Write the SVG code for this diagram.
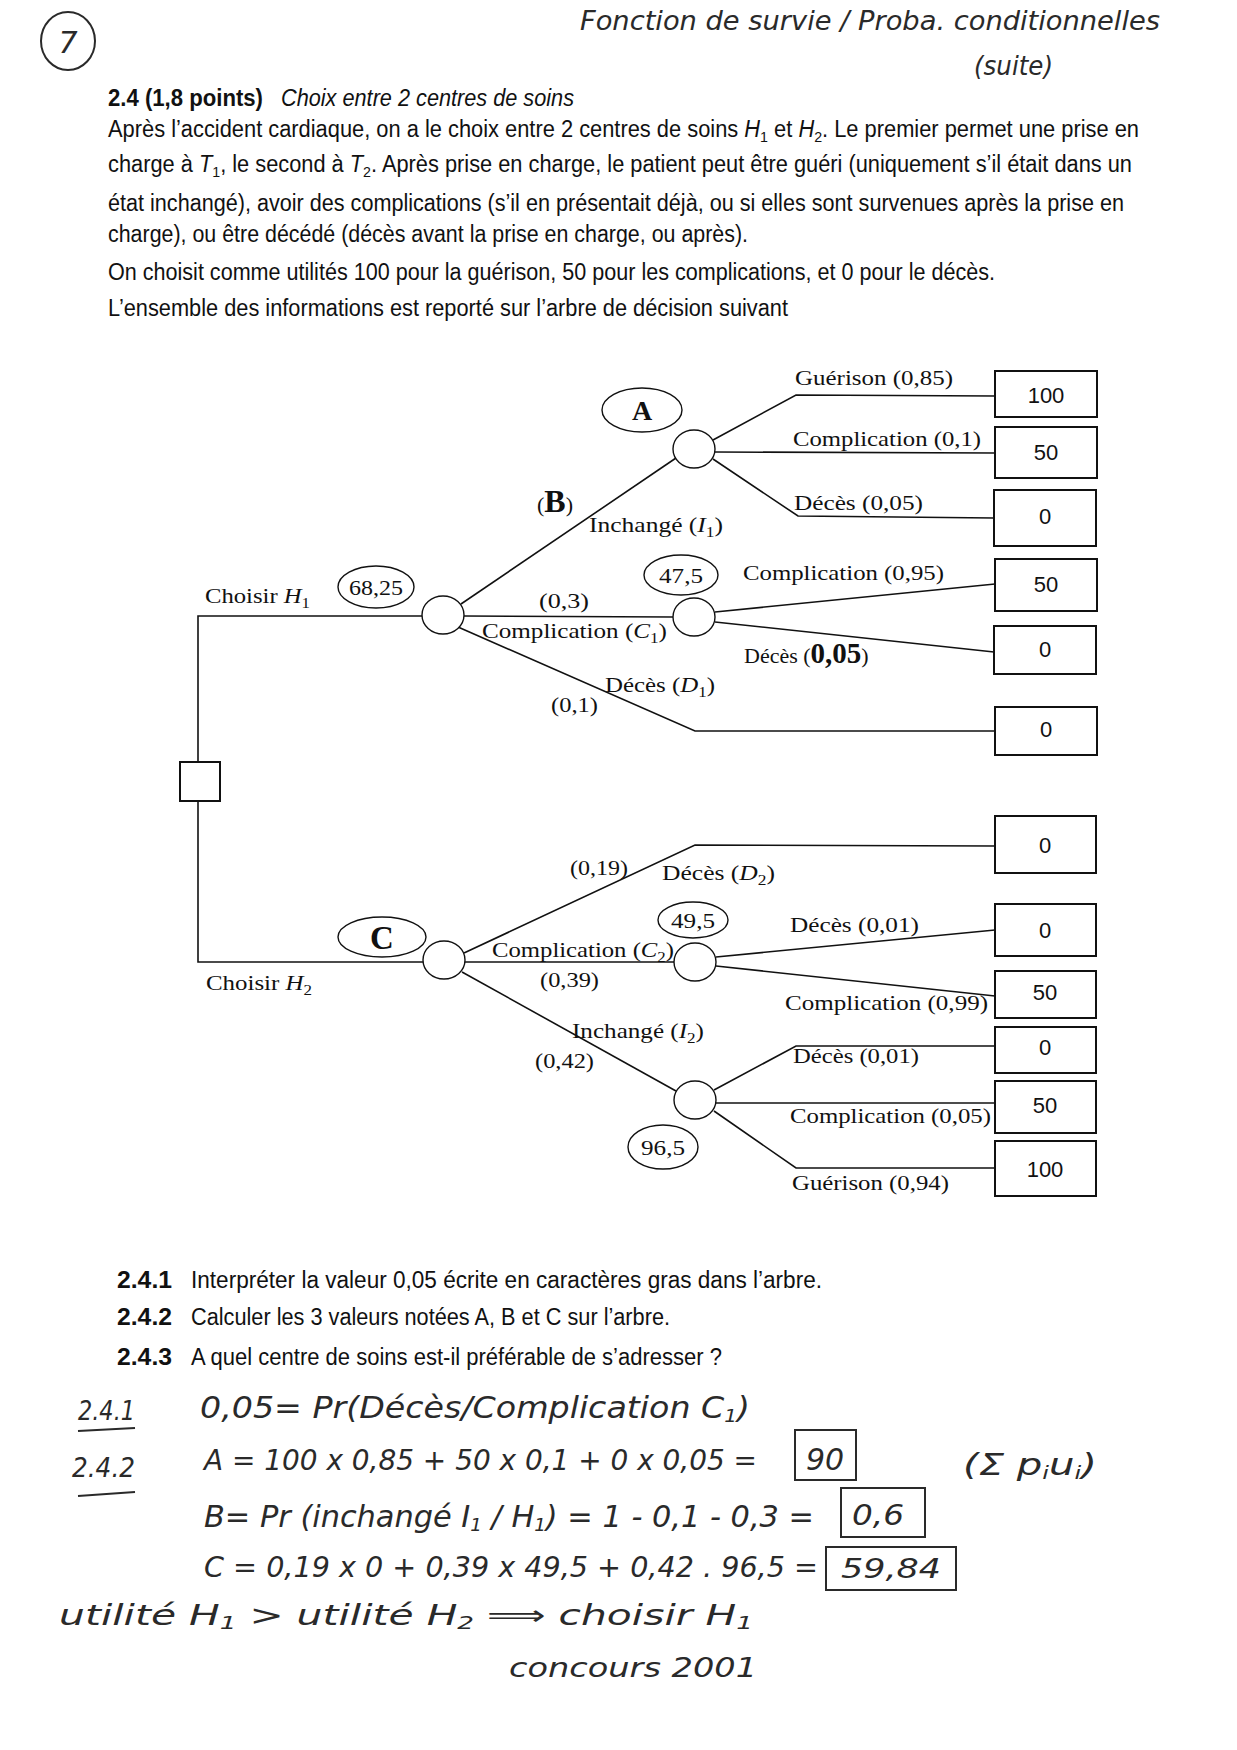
<svg xmlns="http://www.w3.org/2000/svg" width="1237" height="1750" viewBox="0 0 1237 1750">
<style>
.t{font-family:"Liberation Serif",serif;font-size:22px;fill:#111}
.b{font-family:"Liberation Sans",sans-serif;font-size:23px;fill:#111}
.bb{font-family:"Liberation Sans",sans-serif;font-size:23px;font-weight:bold;fill:#111}
.h{font-family:"DejaVu Sans",sans-serif;font-style:oblique;font-weight:300;fill:#2a2a2a}
.ln{stroke:#111;stroke-width:1.6;fill:none}
.ul{stroke:#2a2a2a;stroke-width:2;fill:none}
.nd{stroke:#111;stroke-width:1.4;fill:#fff}
.bx{stroke:#111;stroke-width:2;fill:#fff}
.hb{stroke:#2a2a2a;stroke-width:2;fill:none}
.num{font-family:"Liberation Sans",sans-serif;font-size:22px;fill:#111;text-anchor:middle}
.it{font-style:italic}
.big{font-family:"Liberation Serif",serif;font-weight:bold;fill:#111;text-anchor:middle}
</style>
<rect width="1237" height="1750" fill="#fff"/>

<g id="header">
<ellipse cx="68" cy="41" rx="27" ry="29" class="hb"/>
<text x="68" y="53" class="h" font-size="30" text-anchor="middle">7</text>
<text x="580" y="30" class="h" font-size="26" textLength="580" lengthAdjust="spacingAndGlyphs">Fonction de survie / Proba. conditionnelles</text>
<text x="974" y="75" class="h" font-size="26" textLength="79" lengthAdjust="spacingAndGlyphs">(suite)</text>
</g>

<g id="statement">
<text x="108" y="106" class="bb" textLength="155" lengthAdjust="spacingAndGlyphs">2.4 (1,8 points)</text>
<text x="281" y="106" class="b it" textLength="293" lengthAdjust="spacingAndGlyphs">Choix entre 2 centres de soins</text>
<text x="108" y="137" class="b" textLength="1031" lengthAdjust="spacingAndGlyphs">Après l’accident cardiaque, on a le choix entre 2 centres de soins <tspan class="it">H</tspan><tspan font-size="15" dy="5">1</tspan><tspan dy="-5"> et </tspan><tspan class="it">H</tspan><tspan font-size="15" dy="5">2</tspan><tspan dy="-5">. Le premier permet une prise en</tspan></text>
<text x="108" y="172" class="b" textLength="1024" lengthAdjust="spacingAndGlyphs">charge à <tspan class="it">T</tspan><tspan font-size="15" dy="5">1</tspan><tspan dy="-5">, le second à </tspan><tspan class="it">T</tspan><tspan font-size="15" dy="5">2</tspan><tspan dy="-5">. Après prise en charge, le patient peut être guéri (uniquement s’il était dans un</tspan></text>
<text x="108" y="211" class="b" textLength="1016" lengthAdjust="spacingAndGlyphs">état inchangé), avoir des complications (s’il en présentait déjà, ou si elles sont survenues après la prise en</text>
<text x="108" y="242" class="b" textLength="640" lengthAdjust="spacingAndGlyphs">charge), ou être décédé (décès avant la prise en charge, ou après).</text>
<text x="108" y="280" class="b" textLength="887" lengthAdjust="spacingAndGlyphs">On choisit comme utilités 100 pour la guérison, 50 pour les complications, et 0 pour le décès.</text>
<text x="108" y="316" class="b" textLength="680" lengthAdjust="spacingAndGlyphs">L’ensemble des informations est reporté sur l’arbre de décision suivant</text>
</g>

<g id="connectors">
<polyline class="ln" points="423,616 198,616 198,762"/>
<polyline class="ln" points="198,801 198,962 423,962"/>
<line class="ln" x1="461" y1="604" x2="676" y2="458"/>
<line class="ln" x1="464" y1="616" x2="673" y2="617"/>
<polyline class="ln" points="458,627 695,731 995,731"/>
<polyline class="ln" points="713,440 796,395 995,396"/>
<line class="ln" x1="715" y1="452" x2="995" y2="453"/>
<polyline class="ln" points="713,459 798,516 994,518"/>
<line class="ln" x1="715" y1="612" x2="995" y2="584"/>
<line class="ln" x1="715" y1="622" x2="994" y2="652"/>
<polyline class="ln" points="464,953 695,845 995,846"/>
<line class="ln" x1="465" y1="962" x2="674" y2="962"/>
<line class="ln" x1="462" y1="972" x2="676" y2="1091"/>
<line class="ln" x1="716" y1="957" x2="995" y2="930"/>
<line class="ln" x1="716" y1="966" x2="995" y2="996"/>
<polyline class="ln" points="714,1090 796,1046 997,1046"/>
<line class="ln" x1="716" y1="1103" x2="997" y2="1103"/>
<polyline class="ln" points="714,1111 796,1168 995,1168"/>
</g>

<g id="decision">
<rect x="180" y="762" width="40" height="39" class="bx"/>
</g>

<g id="branch-labels">
<text x="205" y="603" class="t" textLength="105" lengthAdjust="spacingAndGlyphs">Choisir <tspan class="it">H</tspan><tspan font-size="15" dy="5">1</tspan></text>
<text x="539" y="608" class="t" textLength="50" lengthAdjust="spacingAndGlyphs">(0,3)</text>
<text x="482" y="638" class="t" textLength="185" lengthAdjust="spacingAndGlyphs">Complication  (<tspan class="it">C</tspan><tspan font-size="15" dy="5">1</tspan><tspan dy="-5">)</tspan></text>
<text x="605" y="692" class="t" textLength="110" lengthAdjust="spacingAndGlyphs">Décès (<tspan class="it">D</tspan><tspan font-size="15" dy="5">1</tspan><tspan dy="-5">)</tspan></text>
<text x="551" y="712" class="t" textLength="47" lengthAdjust="spacingAndGlyphs">(0,1)</text>
<text x="589" y="532" class="t" textLength="134" lengthAdjust="spacingAndGlyphs">Inchangé (<tspan class="it">I</tspan><tspan font-size="15" dy="5">1</tspan><tspan dy="-5">)</tspan></text>
<text x="555" y="512" class="t" font-size="26" text-anchor="middle">(<tspan font-weight="bold" font-size="32">B</tspan>)</text>
<text x="795" y="385" class="t" textLength="158" lengthAdjust="spacingAndGlyphs">Guérison  (0,85)</text>
<text x="793" y="446" class="t" textLength="188" lengthAdjust="spacingAndGlyphs">Complication  (0,1)</text>
<text x="794" y="510" class="t" textLength="129" lengthAdjust="spacingAndGlyphs">Décès (0,05)</text>
<text x="743" y="580" class="t" textLength="201" lengthAdjust="spacingAndGlyphs">Complication  (0,95)</text>
<text x="744" y="663" class="t">Décès (<tspan font-weight="bold" font-size="29">0,05</tspan>)</text>
<text x="206" y="990" class="t" textLength="106" lengthAdjust="spacingAndGlyphs">Choisir <tspan class="it">H</tspan><tspan font-size="15" dy="5">2</tspan></text>
<text x="570" y="875" class="t" textLength="58" lengthAdjust="spacingAndGlyphs">(0,19)</text>
<text x="662" y="880" class="t" textLength="113" lengthAdjust="spacingAndGlyphs">Décès (<tspan class="it">D</tspan><tspan font-size="15" dy="5">2</tspan><tspan dy="-5">)</tspan></text>
<text x="492" y="957" class="t" textLength="182" lengthAdjust="spacingAndGlyphs">Complication  (<tspan class="it">C</tspan><tspan font-size="15" dy="5">2</tspan><tspan dy="-5">)</tspan></text>
<text x="540" y="987" class="t" textLength="59" lengthAdjust="spacingAndGlyphs">(0,39)</text>
<text x="572" y="1038" class="t" textLength="132" lengthAdjust="spacingAndGlyphs">Inchangé (<tspan class="it">I</tspan><tspan font-size="15" dy="5">2</tspan><tspan dy="-5">)</tspan></text>
<text x="535" y="1068" class="t" textLength="59" lengthAdjust="spacingAndGlyphs">(0,42)</text>
<text x="790" y="932" class="t" textLength="129" lengthAdjust="spacingAndGlyphs">Décès (0,01)</text>
<text x="785" y="1010" class="t" textLength="203" lengthAdjust="spacingAndGlyphs">Complication  (0,99)</text>
<text x="793" y="1063" class="t" textLength="126" lengthAdjust="spacingAndGlyphs">Décès (0,01)</text>
<text x="790" y="1123" class="t" textLength="201" lengthAdjust="spacingAndGlyphs">Complication  (0,05)</text>
<text x="792" y="1190" class="t" textLength="157" lengthAdjust="spacingAndGlyphs">Guérison  (0,94)</text>
</g>

<g id="node-h1">
<ellipse cx="443" cy="615" rx="21" ry="19" class="nd"/>
</g>
<g id="value-68">
<ellipse cx="376" cy="587" rx="38" ry="21" class="nd"/>
<text x="376" y="595" class="t" text-anchor="middle" textLength="54" lengthAdjust="spacingAndGlyphs">68,25</text>
</g>
<g id="node-a">
<ellipse cx="694" cy="449" rx="21" ry="19" class="nd"/>
</g>
<g id="value-a">
<ellipse cx="642" cy="410" rx="40" ry="22" class="nd"/>
<text x="642" y="420" class="big" font-size="28">A</text>
</g>
<g id="node-c1">
<ellipse cx="694" cy="617" rx="21" ry="19" class="nd"/>
</g>
<g id="value-47">
<ellipse cx="681" cy="575" rx="37" ry="20" class="nd"/>
<text x="681" y="583" class="t" text-anchor="middle" textLength="44" lengthAdjust="spacingAndGlyphs">47,5</text>
</g>
<g id="node-h2">
<ellipse cx="444" cy="960" rx="21" ry="19" class="nd"/>
</g>
<g id="value-c">
<ellipse cx="382" cy="937" rx="44" ry="20" class="nd"/>
<text x="382" y="949" class="big" font-size="33">C</text>
</g>
<g id="node-c2">
<ellipse cx="695" cy="962" rx="21" ry="19" class="nd"/>
</g>
<g id="value-49">
<ellipse cx="693" cy="920" rx="35" ry="18" class="nd"/>
<text x="693" y="928" class="t" text-anchor="middle" textLength="44" lengthAdjust="spacingAndGlyphs">49,5</text>
</g>
<g id="node-i2">
<ellipse cx="695" cy="1100" rx="21" ry="19" class="nd"/>
</g>
<g id="value-96">
<ellipse cx="663" cy="1147" rx="35" ry="22" class="nd"/>
<text x="663" y="1155" class="t" text-anchor="middle" textLength="44" lengthAdjust="spacingAndGlyphs">96,5</text>
</g>

<g id="outcomes">
<rect x="995" y="371" width="102" height="46" class="bx"/><text x="1046" y="403" class="num">100</text>
<rect x="995" y="427" width="102" height="51" class="bx"/><text x="1046" y="460" class="num">50</text>
<rect x="994" y="490" width="102" height="56" class="bx"/><text x="1045" y="524" class="num">0</text>
<rect x="995" y="559" width="102" height="52" class="bx"/><text x="1046" y="592" class="num">50</text>
<rect x="994" y="626" width="102" height="48" class="bx"/><text x="1045" y="657" class="num">0</text>
<rect x="995" y="707" width="102" height="48" class="bx"/><text x="1046" y="737" class="num">0</text>
<rect x="995" y="816" width="101" height="57" class="bx"/><text x="1045" y="853" class="num">0</text>
<rect x="995" y="904" width="101" height="52" class="bx"/><text x="1045" y="938" class="num">0</text>
<rect x="995" y="971" width="101" height="47" class="bx"/><text x="1045" y="1000" class="num">50</text>
<rect x="995" y="1027" width="101" height="46" class="bx"/><text x="1045" y="1055" class="num">0</text>
<rect x="995" y="1081" width="101" height="52" class="bx"/><text x="1045" y="1113" class="num">50</text>
<rect x="995" y="1141" width="101" height="55" class="bx"/><text x="1045" y="1177" class="num">100</text>
</g>

<g id="questions">
<text x="117" y="1288" class="bb" textLength="55" lengthAdjust="spacingAndGlyphs">2.4.1</text>
<text x="191" y="1288" class="b" textLength="631" lengthAdjust="spacingAndGlyphs">Interpréter la valeur 0,05 écrite en caractères gras dans l’arbre.</text>
<text x="117" y="1325" class="bb" textLength="55" lengthAdjust="spacingAndGlyphs">2.4.2</text>
<text x="191" y="1325" class="b" textLength="479" lengthAdjust="spacingAndGlyphs">Calculer les 3 valeurs notées A, B et C sur l’arbre.</text>
<text x="117" y="1365" class="bb" textLength="55" lengthAdjust="spacingAndGlyphs">2.4.3</text>
<text x="191" y="1365" class="b" textLength="531" lengthAdjust="spacingAndGlyphs">A quel centre de soins est-il préférable de s’adresser ?</text>
</g>

<g id="answers">
<text x="78" y="1420" class="h" font-size="26" textLength="57" lengthAdjust="spacingAndGlyphs">2.4.1</text>
<path class="ul" d="M78,1431 L135,1428"/>
<text x="200" y="1418" class="h" font-size="30" textLength="550" lengthAdjust="spacingAndGlyphs">0,05= Pr(Décès/Complication C<tspan font-size="18" dy="4">1</tspan><tspan dy="-4">)</tspan></text>
<text x="72" y="1477" class="h" font-size="26" textLength="63" lengthAdjust="spacingAndGlyphs">2.4.2</text>
<path class="ul" d="M78,1496 L135,1492"/>
<text x="204" y="1470" class="h" font-size="28" textLength="553" lengthAdjust="spacingAndGlyphs">A = 100 x 0,85 + 50 x 0,1 + 0 x 0,05 =</text>
<rect x="795" y="1430" width="61" height="50" class="hb"/>
<text x="825" y="1470" class="h" font-size="30" text-anchor="middle">90</text>
<text x="963" y="1475" class="h" font-size="30" textLength="134" lengthAdjust="spacingAndGlyphs">(Σ p<tspan font-size="18" dy="4">i</tspan><tspan dy="-4">u</tspan><tspan font-size="18" dy="4">i</tspan><tspan dy="-4">)</tspan></text>
<text x="204" y="1527" class="h" font-size="30" textLength="610" lengthAdjust="spacingAndGlyphs">B= Pr (inchangé I<tspan font-size="18" dy="4">1</tspan><tspan dy="-4"> / H</tspan><tspan font-size="18" dy="4">1</tspan><tspan dy="-4">) = 1 - 0,1 - 0,3 =</tspan></text>
<rect x="841" y="1488" width="84" height="49" class="hb"/>
<text x="852" y="1525" class="h" font-size="28" textLength="52" lengthAdjust="spacingAndGlyphs">0,6</text>
<text x="204" y="1577" class="h" font-size="28" textLength="614" lengthAdjust="spacingAndGlyphs">C = 0,19 x 0 + 0,39 x 49,5 + 0,42 . 96,5 =</text>
<rect x="826" y="1547" width="130" height="43" class="hb"/>
<text x="891" y="1578" class="h" font-size="26" text-anchor="middle" textLength="100" lengthAdjust="spacingAndGlyphs">59,84</text>
<text x="59" y="1625" class="h" font-size="28" textLength="694" lengthAdjust="spacingAndGlyphs">utilité H<tspan font-size="18" dy="4">1</tspan><tspan dy="-4"> &gt; utilité H</tspan><tspan font-size="18" dy="4">2</tspan><tspan dy="-4">  ⟹  choisir  H</tspan><tspan font-size="18" dy="4">1</tspan></text>
<text x="509" y="1677" class="h" font-size="26" textLength="248" lengthAdjust="spacingAndGlyphs">concours  2001</text>
</g>
</svg>
